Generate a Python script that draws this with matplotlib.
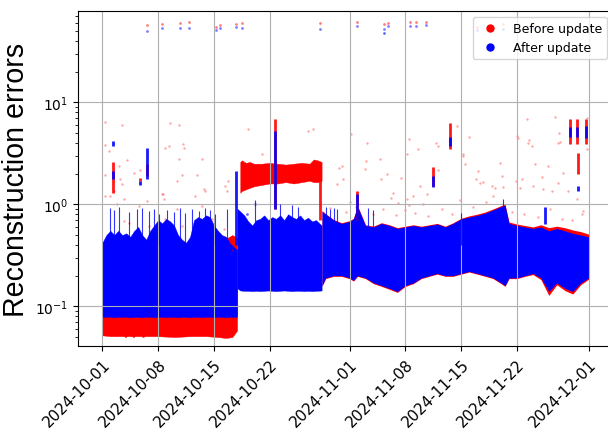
import matplotlib
matplotlib.use('Agg')
import matplotlib.pyplot as plt
import matplotlib.dates as mdates
from matplotlib.lines import Line2D
import pandas as pd

# days counted from 2024-10-01
START = pd.Timestamp('2024-10-01')
tick_labels = ['2024-10-01', '2024-10-08', '2024-10-15', '2024-10-22', '2024-11-01',
               '2024-11-08', '2024-11-15', '2024-11-22', '2024-12-01']

# --- dense bands (envelopes) ---
# period 1: Oct 1 - Oct 17
red_a_days = [0, 1, 2, 2.7, 2.9, 3.1, 3.7, 3.9, 4.1, 4.9, 5.1, 5.3, 7, 9, 11, 13, 14.5, 15.5, 16.3, 16.9]
red_a_low = [0.052, 0.051, 0.051, 0.051, 0.05, 0.051, 0.051, 0.05, 0.051, 0.051, 0.05, 0.051,
             0.051, 0.05, 0.051, 0.051, 0.05, 0.049, 0.05, 0.058]
red_a_high = [0.3, 0.3, 0.3, 0.3, 0.3, 0.3, 0.3, 0.3, 0.3, 0.3, 0.3, 0.3,
              0.3, 0.3, 0.3, 0.3, 0.35, 0.46, 0.5, 0.47]

blue_a_days = [0, 0.5, 1, 1.5, 2, 2.5, 3, 3.5, 4, 4.5, 5, 5.5, 6, 6.5, 7, 7.5, 8, 8.5, 9,
               9.5, 10, 10.5, 11, 11.5, 12, 12.5, 13, 13.5, 14, 14.5, 15, 15.5, 16, 16.5, 16.9]
blue_a_high = [0.42, 0.5, 0.55, 0.5, 0.55, 0.5, 0.52, 0.48, 0.55, 0.6, 0.5, 0.45, 0.55, 0.62,
               0.7, 0.65, 0.72, 0.68, 0.62, 0.5, 0.45, 0.42, 0.48, 0.7, 0.75, 0.72, 0.78, 0.75,
               0.62, 0.55, 0.5, 0.48, 0.42, 0.38, 0.36]
blue_a_low = [0.079, 0.079, 0.079, 0.078, 0.079, 0.079, 0.079, 0.078, 0.079, 0.079, 0.078,
              0.079, 0.079, 0.078, 0.079, 0.079, 0.078, 0.079, 0.079, 0.078, 0.079, 0.079,
              0.078, 0.079, 0.079, 0.078, 0.079, 0.079, 0.078, 0.079, 0.079, 0.078, 0.079,
              0.079, 0.079]
# small bumps of the lower blue edge
bump_days = [2.7, 2.9, 3.1, 3.7, 3.9, 4.1, 4.9, 5.1, 5.3]
bump_low = [0.079, 0.095, 0.08, 0.079, 0.098, 0.08, 0.079, 0.094, 0.079]

# period 2: Oct 17 - Oct 28
red_b_days = [17.3, 17.5, 18, 18.5, 19, 20, 21, 22, 23, 24, 25, 26, 26.5, 27, 27.5]
red_b_high = [2.6, 2.7, 2.55, 2.6, 2.5, 2.5, 2.55, 2.5, 2.45, 2.5, 2.55, 2.5, 2.75, 2.7, 2.6]
red_b_low = [1.3, 1.35, 1.4, 1.45, 1.5, 1.55, 1.6, 1.6, 1.65, 1.6, 1.65, 1.7, 1.65, 1.65, 1.7]

blue_b_days = [16.95, 17.3, 17.8, 18.3, 18.8, 19.3, 19.8, 20.3, 20.8, 21.3, 21.8, 22.3, 22.8,
               23.3, 23.8, 24.3, 24.8, 25.3, 25.8, 26.3, 26.8, 27.5]
blue_b_high = [0.9, 0.85, 0.78, 0.68, 0.62, 0.7, 0.72, 0.78, 0.7, 0.75, 0.72, 0.78, 0.7, 0.8,
               0.75, 0.72, 0.78, 0.7, 0.74, 0.68, 0.7, 0.62]
blue_b_low = [0.15, 0.143, 0.142, 0.142, 0.141, 0.142, 0.141, 0.142, 0.143, 0.142, 0.141,
              0.142, 0.143, 0.142, 0.141, 0.142, 0.142, 0.141, 0.142, 0.141, 0.142, 0.143]

# period 3: Oct 28 - Dec 1
c_days = [27.55, 28, 29, 30, 31, 31.5, 32, 33, 34, 35, 36, 37, 38, 39, 40, 41, 42, 43, 44, 45,
          46, 47, 48, 49, 50, 50.5, 51, 52, 53, 54, 55, 56, 57, 58, 59, 60, 61]
blue_c_high = [0.85, 0.8, 0.7, 0.65, 0.68, 0.72, 0.95, 0.62, 0.6, 0.65, 0.62, 0.58, 0.6, 0.62,
               0.6, 0.62, 0.64, 0.6, 0.65, 0.72, 0.75, 0.78, 0.82, 0.88, 0.95, 0.98, 0.65, 0.62,
               0.6, 0.58, 0.6, 0.55, 0.58, 0.55, 0.52, 0.5, 0.48]
blue_c_low = [0.16, 0.19, 0.2, 0.2, 0.19, 0.18, 0.2, 0.19, 0.17, 0.16, 0.15, 0.14, 0.16, 0.17,
              0.19, 0.2, 0.21, 0.2, 0.2, 0.21, 0.22, 0.21, 0.2, 0.19, 0.17, 0.16, 0.19, 0.19,
              0.2, 0.21, 0.19, 0.14, 0.17, 0.15, 0.14, 0.17, 0.19]
red_c_high = [0.87, 0.81, 0.71, 0.66, 0.69, 0.73, 0.97, 0.63, 0.61, 0.66, 0.63, 0.59, 0.61, 0.63,
              0.61, 0.63, 0.65, 0.61, 0.66, 0.73, 0.77, 0.8, 0.84, 0.9, 0.97, 1.0, 0.67, 0.64,
              0.62, 0.6, 0.63, 0.59, 0.61, 0.59, 0.56, 0.54, 0.51]
red_c_low = [0.157, 0.187, 0.197, 0.197, 0.187, 0.177, 0.197, 0.187, 0.167, 0.157, 0.147, 0.137,
             0.157, 0.167, 0.187, 0.197, 0.207, 0.197, 0.197, 0.207, 0.217, 0.207, 0.197, 0.187,
             0.167, 0.157, 0.187, 0.187, 0.197, 0.205, 0.183, 0.128, 0.163, 0.143, 0.132, 0.163,
             0.185]

# --- thin spikes above the blue band ---
spike_days = [1.0, 1.42, 2.05, 3.3, 4.3, 4.97, 5.8, 6.43, 7.06, 8.1, 8.94, 9.77, 10.4, 11.2,
              12.07, 12.9, 13.5, 14.16, 15.6, 19.2, 22.3, 23.8, 24.6, 28.0, 28.5, 29.0, 29.4,
              33.3, 34.0, 45.0, 50.3]
spike_tops = [0.93, 0.88, 0.95, 0.85, 0.9, 0.92, 0.86, 0.9, 0.8, 0.88, 0.84, 0.92, 0.82, 0.9,
              0.86, 0.93, 0.88, 0.8, 0.9, 1.1, 1.0, 0.98, 0.95, 0.95, 0.9, 0.92, 0.9,
              0.93, 0.88, 0.82, 1.12]

# --- columns of points (day, low, high) ---
red_col_days = [1.4, 4.76, 5.6, 21.7, 27.3, 32.0, 41.5, 43.6, 58.6, 59.5, 59.7, 60.6]
red_col_low = [1.3, 1.7, 1.9, 0.9, 0.7, 0.7, 1.5, 3.5, 3.9, 3.9, 2.0, 3.9]
red_col_high = [2.6, 1.8, 2.5, 6.8, 1.8, 1.35, 2.3, 6.3, 6.8, 6.8, 3.2, 6.8]
blue_col_days = [1.4, 1.4, 4.76, 5.6, 16.8, 21.7, 32.0, 41.5, 43.6, 55.5, 58.6, 59.5, 59.7, 60.6]
blue_col_low = [1.76, 3.7, 1.55, 1.76, 0.4, 0.9, 0.7, 1.47, 3.7, 0.64, 4.6, 4.6, 1.34, 4.5]
blue_col_high = [2.1, 4.2, 1.7, 3.6, 2.1, 5.2, 1.25, 1.9, 4.6, 0.95, 5.7, 5.7, 1.5, 5.9]

# --- isolated points ---
top_days = [5.6, 7.52, 9.77, 10.86, 14.25, 14.79, 16.75, 17.5, 27.3, 32.0, 35.3, 35.8,
            38.6, 39.3, 40.6, 47.0, 50.3, 54.0, 58.4]
top_red = [57.3, 59.0, 59.9, 61.3, 55.1, 57.3, 58.2, 59.6, 59.6, 60.6, 58.5, 59.6,
           61.3, 60.6, 60.6, 55.0, 58.0, 58.5, 56.0]
top_blue = [50.0, 53.0, 53.0, 54.0, 51.2, 54.0, 55.1, 53.0, 52.7, 56.1, 52.7, 56.1,
            56.1, 56.1, 56.8, 51.0, 52.0, 53.0, 50.0]

red_out_days = [0.38, 0.29, 0.79, 0.38, 0.91, 2.51, 2.04, 2.26, 3.10, 2.76, 2.47, 8.52, 9.65,
                7.89, 8.31, 10.15, 10.28, 9.56, 9.99, 9.36, 11.87, 12.53, 12.78, 7.61, 7.68,
                18.26, 20.05, 25.85, 15.75, 15.41, 3.92, 4.76, 26.4, 30.04, 31.17, 33.17, 33.08,
                34.84, 34.96, 35.75, 36.5, 37.13, 38.47, 39.64, 41.85, 42.14, 44.45, 46.03,
                45.28, 45.49, 47.16, 47.37, 48.83, 49.87, 50.09, 51.97, 53.42, 53.92, 53.22,
                52.59, 54.05, 54.26, 55.93, 56.77, 57.18, 57.81, 57.18, 58.43, 60.31, 59.49,
                39.85, 38.94, 38.18, 37.47, 38.26, 40.69, 42.07, 45.28, 46.83, 47.78, 49.25,
                50.29, 51.88, 52.38, 52.17, 53.51, 55.18, 55.3, 57.31, 57.39, 56.35, 60.74,
                60.74, 38.47, 40.26, 29.7, 30.16, 29.41, 32.96,
                0.38, 1.42, 1.84, 2.67, 3.3, 4.55, 5.6, 5.8, 7.48, 7.9, 9.36, 9.99, 11.65,
                12.49, 13.75, 12.9, 15.2, 15.62, 16.04, 16.25,
                28.6, 30.5, 31.8, 33.9, 35.2, 36.8, 37.9, 39.2, 40.9, 42.6, 43.9, 46.5, 48.1,
                51.4, 52.9, 54.6, 56.1, 57.6, 58.9, 60.2, 44.8, 36.2, 31.0, 49.0]
red_out_vals = [6.41, 3.81, 3.31, 1.92, 1.21, 5.95, 2.37, 1.76, 2.72, 1.12, 1.57, 6.32, 5.95,
                3.59, 3.73, 3.94, 3.59, 2.81, 1.94, 1.69, 1.92, 2.81, 1.40, 1.25, 1.12,
                5.43, 3.11, 5.23, 1.69, 1.51, 2.05, 2.17, 5.52, 2.37, 4.86, 3.96, 2.66,
                2.76, 1.76, 1.97, 1.30, 1.04, 4.34, 3.46, 4.03, 3.73, 5.86, 4.61,
                2.98, 2.47, 2.12, 1.63, 1.51, 2.56, 1.89, 4.67, 4.03, 3.73, 6.81,
                1.76, 1.51, 2.47, 2.37, 7.24, 4.03, 2.05, 1.63, 1.35, 0.86, 1.12,
                1.51, 1.21, 1.12, 1.83, 3.14, 1.26, 2.17, 3.09, 1.76, 1.65, 1.43,
                1.49, 1.69, 1.46, 4.51, 4.27, 1.87, 1.40, 4.97, 4.08, 1.35, 7.08,
                3.46, 0.99, 1.0, 2.29, 1.76, 1.57, 2.2,
                1.2, 1.35, 1.0, 0.69, 0.66, 0.96, 1.08, 0.61, 1.25, 0.71, 0.89, 0.61, 1.21,
                0.96, 0.71, 1.35, 0.57, 1.35, 0.42, 0.36,
                0.92, 0.85, 0.95, 0.8, 0.9, 0.78, 0.88, 0.82, 0.76, 0.9, 0.8, 0.95, 1.05,
                0.85, 0.8, 0.75, 0.9, 0.72, 0.7, 0.8, 1.1, 1.15, 1.05, 1.2]

blue_out_days = [0.05, 35.3, 18.1, 19.2]
blue_out_vals = [0.28, 47.4, 0.8, 1.0]

RED = '#ff0000'
BLUE = '#0000ff'

t0 = mdates.date2num(START)


def xs(days):
    return [t0 + d for d in days]


fig = plt.figure(figsize=(6.08, 4.31), dpi=100)
ax = fig.add_axes([0.1283, 0.1942, 0.88, 0.7787])
ax.set_yscale('log')

# before update (red) underneath
ax.fill_between(xs(red_a_days), red_a_low, red_a_high, color=RED, lw=0.3)
ax.fill_between(xs(red_b_days), red_b_low, red_b_high, color=RED, lw=0.3)
ax.fill_between(xs(c_days), red_c_low, red_c_high, color=RED, lw=0)
ax.vlines(xs(red_col_days), red_col_low, red_col_high, color=RED, lw=2, alpha=0.9)

# after update (blue) on top
ax.fill_between(xs(blue_a_days), blue_a_low, blue_a_high, color=BLUE, lw=0.3)
ax.fill_between(xs(bump_days), bump_low, [0.2] * len(bump_days), color=BLUE, lw=0)
ax.fill_between(xs(blue_b_days), blue_b_low, blue_b_high, color=BLUE, lw=0.3)
ax.fill_between(xs(c_days), blue_c_low, blue_c_high, color=BLUE, lw=0)
ax.vlines(xs(spike_days), [0.4] * len(spike_days), spike_tops, color=BLUE, lw=0.8, alpha=0.8)
ax.vlines(xs(blue_col_days), blue_col_low, blue_col_high, color=BLUE, lw=2, alpha=0.9)

ax.scatter(xs(red_out_days), red_out_vals, s=3, color=RED, alpha=0.35, lw=0)
ax.scatter(xs(top_days), top_red, s=4, color=RED, alpha=0.5, lw=0)
ax.scatter(xs(top_days), top_blue, s=4, color=BLUE, alpha=0.5, lw=0)
ax.scatter(xs(blue_out_days), blue_out_vals, s=4, color=BLUE, alpha=0.6, lw=0)

ax.set_ylim(0.0406, 79)
ax.set_xlim(t0 - 3.05, t0 + 64.05)
tick_pos = mdates.date2num(pd.to_datetime(tick_labels).to_pydatetime())
ax.set_xticks(tick_pos)
ax.set_xticklabels(tick_labels, rotation=45, ha='right', rotation_mode='anchor', fontsize=11)
ax.tick_params(axis='y', labelsize=10)
ax.grid(True)
ax.set_ylabel('Reconstruction errors', fontsize=20.6, family='Liberation Sans')

handles = [Line2D([], [], marker='o', ls='', color=RED, markersize=5, label='Before update'),
           Line2D([], [], marker='o', ls='', color=BLUE, markersize=5, label='After update')]
ax.legend(handles=handles, loc='upper right', fontsize=9)

fig.savefig('out.png', dpi=100)
